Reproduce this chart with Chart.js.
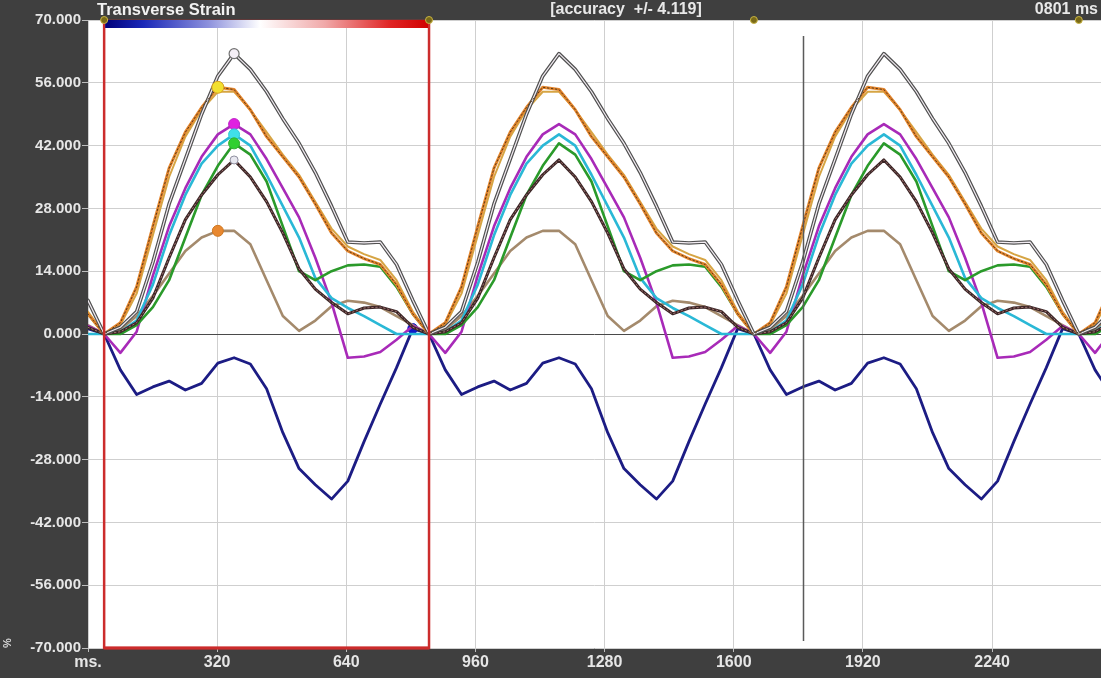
<!DOCTYPE html>
<html>
<head>
<meta charset="utf-8">
<script src="https://cdn.jsdelivr.net/npm/chart.js@4.4.0/dist/chart.umd.min.js"></script>
<style>
  html, body { margin: 0; padding: 0; background: #3f3f3f; }
  #wrap { width: 1101px; height: 678px; }
</style>
</head>
<body>
<div id="wrap"><canvas id="strainChart" width="1101" height="678"></canvas></div>
<script>
const cycleMs = 805;
const firstCycleMs = 40;
const samplesPerCycle = 20;
const cursorMs = 1771;

const xTicks = [0, 320, 640, 960, 1280, 1600, 1920, 2240];
const yTicks = [70, 56, 42, 28, 14, 0, -14, -28, -42, -56, -70];

const grayWhite = [0, 1.5, 5, 16, 29, 39, 49, 57.5, 62.5, 59, 54, 48, 42.5, 36, 28.5, 20.5, 20.3, 20.5, 15.5, 7.5];
const orange    = [0, 2.5, 10.5, 24, 37, 45, 50.5, 55, 54.5, 50, 44, 39.5, 35, 29, 22.5, 18.5, 16.8, 15.5, 11, 4.5];
const golden    = [0, 2, 9, 22, 35, 44, 50, 54, 54, 50, 45, 40, 35.5, 29.5, 23.5, 19.5, 17.8, 16.5, 12, 5];
const magenta   = [0, -4.2, 0.5, 13, 24, 32.5, 39.5, 44.5, 46.8, 44.5, 39, 32.5, 26, 17, 7, -5.3, -5, -4, -1.3, 1.8];
const cyan      = [0, 0.5, 3, 11, 22, 31, 38, 42, 44.5, 42, 35.5, 28.5, 21.5, 12.5, 8, 5.8, 4, 2, 0, 0];
const green     = [0, 0, 2, 6, 12, 21.5, 31, 37.5, 42.5, 40, 34, 24, 14, 12, 14, 15.3, 15.5, 15, 10.5, 4.5];
const darkBrown = [0, 0.5, 2.5, 8, 17, 25.5, 31, 35.5, 38.8, 35, 29.5, 22.5, 14.5, 10, 7, 4.5, 5.8, 6, 5, 1.5];
const tan       = [0, 1, 4, 8.5, 13.5, 18.5, 21.5, 23, 23, 20, 12, 4, 0.7, 3, 6.2, 7.4, 7, 6, 4, 2];
const navy      = [0, -8, -13.5, -11.8, -10.5, -12.5, -11, -6.5, -5.3, -6.7, -12.2, -22, -30, -33.6, -36.8, -32.8, -24, -15.6, -7.5, 1.2];

const sampleMs = cycleMs / samplesPerCycle;

// the software repeats the same cycle along the time axis
function cycleSeries(values) {
  const pts = [];
  for (let c = -1; c <= 3; c++) {
    values.forEach((v, k) => pts.push({ x: firstCycleMs + c * cycleMs + k * sampleMs, y: v }));
  }
  return pts;
}

// dot on the first displayed cycle (index offset by the partial cycle before it)
function dotAt(k, r) {
  return ctx => (ctx.dataIndex === samplesPerCycle + k ? r : 0);
}

function line(values, color, width, extra) {
  return Object.assign({
    data: cycleSeries(values),
    borderColor: color,
    borderWidth: width,
    pointRadius: 0,
    fill: false,
    tension: 0
  }, extra || {});
}

const datasets = [
  // first in list = drawn on top
  line(grayWhite, '#f2ecf2', 1.2, { pointRadius: dotAt(8, 5), pointBackgroundColor: '#f4eef6', pointBorderColor: '#707070', pointBorderWidth: 1.2 }),
  line(grayWhite, '#505050', 3.6),
  line(orange, '#5a3a18', 1, { order: -1, borderDash: [1.5, 2.5], pointRadius: dotAt(7, 6), pointBackgroundColor: '#f2e030', pointBorderColor: '#d8a020', pointBorderWidth: 1 }),
  line(orange, '#e4852c', 3),
  line(golden, '#d6a544', 2),
  line(darkBrown, '#a07070', 1, { borderDash: [1.5, 2.5], pointRadius: dotAt(8, 4), pointBackgroundColor: '#e8e8f0', pointBorderColor: '#9090a0', pointBorderWidth: 1 }),
  line(darkBrown, '#3c2626', 3),
  line(green, '#2a9a2a', 2.6, { pointRadius: dotAt(8, 5.5), pointBackgroundColor: '#30d030', pointBorderColor: '#30b030', pointBorderWidth: 1 }),
  line(cyan, '#2ab8d6', 2.6, { pointRadius: dotAt(8, 5.5), pointBackgroundColor: '#40e0e8', pointBorderColor: '#30c8d8', pointBorderWidth: 1 }),
  line(magenta, '#a82ab8', 2.6, { pointRadius: dotAt(8, 5.5), pointBackgroundColor: '#e020e0', pointBorderColor: '#c020c8', pointBorderWidth: 1 }),
  line(tan, '#a48a6c', 2.6, { pointRadius: dotAt(7, 5.5), pointBackgroundColor: '#e88830', pointBorderColor: '#d07820', pointBorderWidth: 1 }),
  line(navy, '#1c1c84', 2.8, { pointRadius: dotAt(19, 5), pointBackgroundColor: '#1018c8', pointBorderColor: '#1018c8', pointBorderWidth: 1 })
];

const frame = {
  id: 'frame',
  beforeDraw(chart) {
    const { ctx, chartArea: a } = chart;
    ctx.save();
    ctx.fillStyle = '#3f3f3f';
    ctx.fillRect(0, 0, chart.width, chart.height);
    ctx.fillStyle = '#ffffff';
    ctx.fillRect(a.left, a.top, a.right - a.left, a.bottom - a.top);
    ctx.restore();
  },
  afterDatasetsDraw(chart) {
    const { ctx, chartArea: a } = chart;
    const xs = chart.scales.x;
    const boxL = xs.getPixelForValue(firstCycleMs);
    const boxR = xs.getPixelForValue(firstCycleMs + cycleMs);
    ctx.save();

    // cursor
    const cx = Math.round(xs.getPixelForValue(cursorMs)) + 0.5;
    ctx.strokeStyle = '#5a5a5a';
    ctx.lineWidth = 1.5;
    ctx.beginPath();
    ctx.moveTo(cx, 36);
    ctx.lineTo(cx, 641);
    ctx.stroke();

    // selected cycle box
    ctx.strokeStyle = '#cc2c2c';
    ctx.lineWidth = 2.5;
    ctx.strokeRect(boxL, a.top + 1, boxR - boxL, a.bottom - a.top - 1);
    ctx.lineWidth = 3;
    ctx.beginPath();
    ctx.moveTo(boxL, a.bottom);
    ctx.lineTo(boxR, a.bottom);
    ctx.stroke();

    // colour scale bar
    const g = ctx.createLinearGradient(boxL, 0, boxR, 0);
    g.addColorStop(0, '#000078');
    g.addColorStop(0.12, '#1a28b8');
    g.addColorStop(0.32, '#8c90dc');
    g.addColorStop(0.48, '#ffffff');
    g.addColorStop(0.68, '#f0a8a8');
    g.addColorStop(0.88, '#e02424');
    g.addColorStop(1, '#d00000');
    ctx.fillStyle = g;
    ctx.fillRect(boxL + 1, a.top, boxR - boxL - 2, 8);

    // cycle markers on top edge
    for (let c = 0; c < 4; c++) {
      const px = xs.getPixelForValue(firstCycleMs + c * cycleMs);
      ctx.beginPath();
      ctx.arc(px, a.top, 3.5, 0, Math.PI * 2);
      ctx.fillStyle = '#7a6a18';
      ctx.fill();
      ctx.strokeStyle = '#c8b444';
      ctx.lineWidth = 1;
      ctx.stroke();
    }
    ctx.restore();
  },
  afterDraw(chart) {
    const ctx = chart.ctx;
    ctx.save();
    ctx.fillStyle = '#f2f2f2';
    ctx.textBaseline = 'middle';
    ctx.font = 'bold 16.5px "Liberation Sans", Arial, sans-serif';
    ctx.textAlign = 'left';
    ctx.fillText('Transverse Strain', 97, 10);
    ctx.font = 'bold 16px "Liberation Sans", Arial, sans-serif';
    ctx.fillStyle = '#e8e8e8';
    ctx.textAlign = 'center';
    ctx.fillText('[accuracy  +/- 4.119]', 626, 10);
    ctx.textAlign = 'right';
    ctx.fillText('0801 ms', 1098, 10);
    // unit symbol beside y axis
    ctx.translate(8, 643);
    ctx.rotate(-Math.PI / 2);
    ctx.font = 'bold 11px "Liberation Sans", Arial, sans-serif';
    ctx.textAlign = 'center';
    ctx.fillStyle = '#d8d8d8';
    ctx.fillText('%', 0, 0);
    ctx.restore();
  }
};

const yFont = { family: '"Liberation Sans", Arial, sans-serif', size: 15, weight: 'bold' };
const xFont = { family: '"Liberation Sans", Arial, sans-serif', size: 16, weight: 'bold' };

new Chart(document.getElementById('strainChart'), {
  type: 'line',
  data: { datasets },
  plugins: [frame],
  options: {
    responsive: false,
    animation: false,
    devicePixelRatio: 1,
    layout: { padding: { top: 20, left: 0, right: 0, bottom: 0 } },
    plugins: { legend: { display: false }, tooltip: { enabled: false } },
    elements: { line: { borderJoinStyle: 'round', borderCapStyle: 'round' } },
    scales: {
      x: {
        type: 'linear',
        min: 0,
        max: 2510,
        afterBuildTicks: s => { s.ticks = xTicks.map(v => ({ value: v })); },
        afterFit: s => { s.height = 30; },
        border: { display: false },
        grid: { color: '#cfcfcf', lineWidth: 1, tickLength: 4, tickColor: '#bdbdbd' },
        ticks: {
          color: '#e6e6e6',
          font: xFont,
          padding: 1,
          maxRotation: 0,
          autoSkip: false,
          callback: v => (v === 0 ? 'ms.' : String(v))
        }
      },
      y: {
        min: -70,
        max: 70,
        afterBuildTicks: s => { s.ticks = yTicks.map(v => ({ value: v })); },
        afterFit: s => { s.width = 88; },
        border: { display: false },
        grid: {
          color: c => (c.tick && c.tick.value === 0 ? '#4a4a4a' : '#cfcfcf'),
          lineWidth: 1,
          tickLength: 6,
          tickColor: '#bdbdbd'
        },
        ticks: {
          color: '#e6e6e6',
          font: yFont,
          padding: 1,
          callback: v => v.toFixed(3)
        }
      }
    }
  }
});
</script>
</body>
</html>
